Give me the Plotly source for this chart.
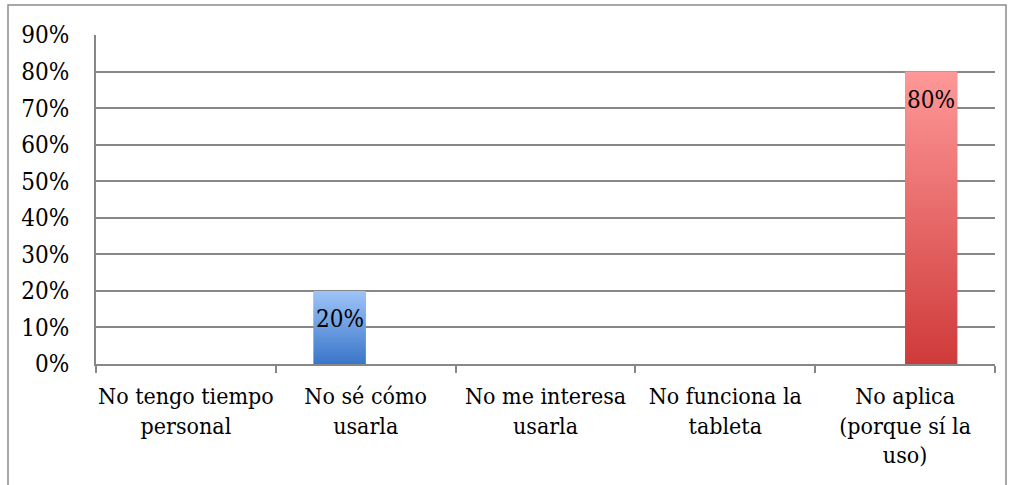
import plotly.graph_objects as go

categories = ["No tengo tiempo<br>personal", "No sé cómo<br>usarla", "No me interesa<br>usarla",
              "No funciona la<br>tableta", "No aplica<br>(porque sí la<br>uso)"]
series_blue = [0, 0.20, 0, 0, 0]
series_red = [0, 0, 0, 0, 0.80]
y_ticks = [0, 0.1, 0.2, 0.3, 0.4, 0.5, 0.6, 0.7, 0.8, 0.9]

BAR_W = 0.29
GRID = "#878787"
FONT = "DejaVu Serif Condensed, DejaVu Serif"

fig = go.Figure()
x_idx = list(range(len(categories)))

series = [
    (series_blue, -BAR_W / 2, "#6a9be0", [[0, "#3a76c9"], [1, "#9ec4f8"]]),
    (series_red, BAR_W / 2, "#e86a6a", [[0, "#cf3a3a"], [1, "#ff9898"]]),
]

annotations = []
for vals, off, mid, cscale in series:
    fig.add_trace(go.Bar(x=[i + off for i in x_idx], y=vals, width=BAR_W,
                         marker=dict(color=mid, line=dict(width=0)),
                         showlegend=False, hoverinfo="skip"))
    px, py = [], []
    for i, v in zip(x_idx, vals):
        if v <= 0:
            continue
        l, r = i + off - BAR_W / 2, i + off + BAR_W / 2
        px += [l, r, r, l, l, None]
        py += [0, 0, v, v, 0, None]
    fig.add_trace(go.Scatter(x=px, y=py, mode="lines", fill="toself",
                             line=dict(width=0, color="rgba(0,0,0,0)"),
                             fillgradient=dict(type="vertical", colorscale=cscale),
                             showlegend=False, hoverinfo="skip"))
    for i, v in zip(x_idx, vals):
        if v > 0:
            annotations.append(dict(x=i + off, y=v, xref="x", yref="y",
                                    text=f"{round(v * 100)}%", showarrow=False,
                                    yanchor="top", yshift=-12,
                                    font=dict(family=FONT, size=24, color="black")))

fig.update_layout(
    width=1011, height=485,
    margin=dict(l=96, r=16, t=35, b=121),
    paper_bgcolor="white", plot_bgcolor="white",
    font=dict(family=FONT, size=24, color="black"),
    barmode="overlay",
    annotations=annotations,
    xaxis=dict(range=[-0.5, 4.5], tickmode="array", tickvals=x_idx, ticktext=categories,
               ticks="", showgrid=False, zeroline=False, tickangle=0,
               showline=True, linecolor=GRID, linewidth=2,
               minor=dict(tickmode="linear", tick0=-0.5, dtick=1, ticks="outside",
                          ticklen=7, tickcolor=GRID, tickwidth=2, showgrid=False),
               ticklabelstandoff=10,
               tickfont=dict(family=FONT, size=23, color="black")),
    yaxis=dict(range=[0, 0.9], tickmode="array", tickvals=y_ticks, tickformat=".0%",
               showgrid=True, gridcolor=GRID, gridwidth=1.8, zeroline=False,
               showline=True, linecolor=GRID, linewidth=2, ticks="",
               ticklabelstandoff=20, tickfont=dict(family=FONT, size=24, color="black")),
    shapes=[dict(type="rect", xref="paper", yref="paper",
                 x0=(8 - 96) / 899, x1=(1006 - 96) / 899,
                 y0=-(121 + 10) / 329, y1=1 + (35 - 5) / 329,
                 line=dict(color="#8c8c8c", width=1.5), fillcolor="rgba(0,0,0,0)",
                 layer="below")],
)

fig.write_html("out.html", config={"displayModeBar": False},
               post_script="document.body.style.margin='0';document.body.style.padding='0';")
